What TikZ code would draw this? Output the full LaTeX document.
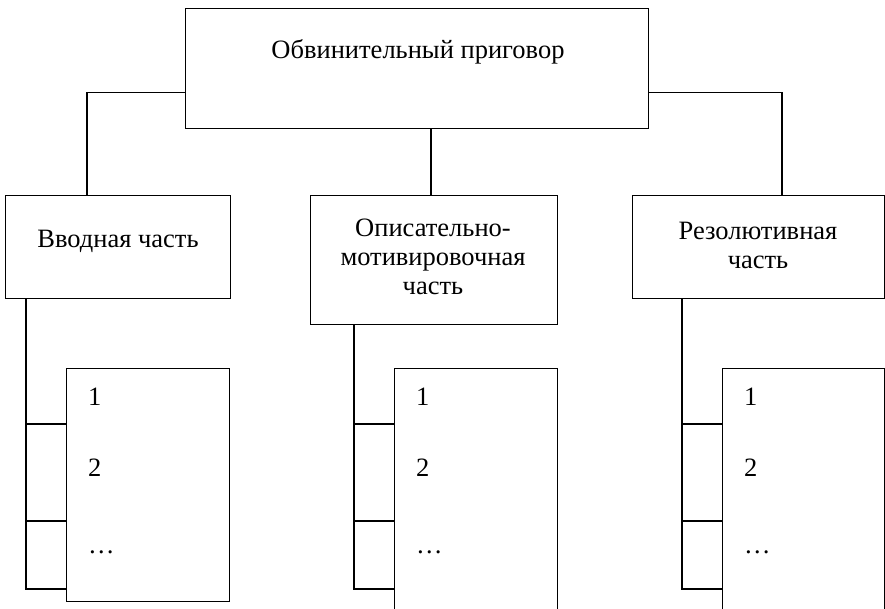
\documentclass[tikz,border=0pt]{standalone}
\usepackage{fontspec}
\setmainfont{Liberation Serif}
\usetikzlibrary{calc}
\begin{document}
\begin{tikzpicture}[x=1pt,y=-1pt,
  box/.style={draw, line width=0.8pt, inner sep=0pt, anchor=north west},
  conn/.style={line width=1.1pt},
  lbl/.style={font=\fontsize{26.5}{29}\selectfont, align=center, inner sep=0pt},
  item/.style={font=\fontsize{26.5}{29}\selectfont, anchor=base west, inner sep=0pt}]
\useasboundingbox (0,0) rectangle (885,608);
\clip (0,0) rectangle (885,608);
% top
\node[box, minimum width=463pt, minimum height=120pt] (top) at (185,8) {};
\node[lbl] (tt) at (418,52) {Обвинительный приговор};
% level 2
\node[box, minimum width=225pt, minimum height=103pt] (b1) at (5,195) {};
\node[box, minimum width=247pt, minimum height=129pt] (b2) at (310,195) {};
\node[box, minimum width=252pt, minimum height=103pt] (b3) at (632,195) {};
\node[lbl] (t1) at (118,241) {Вводная часть};
\node[lbl] (t2) at (433,257) {Описательно-\\мотивировочная\\часть};
\node[lbl] (t3) at (758,245) {Резолютивная\\часть};
% lists
\node[box, minimum width=163pt, minimum height=233pt] (l1) at (66,368) {};
\node[box, minimum width=163pt, minimum height=250pt] (l2) at (394,368) {};
\node[box, minimum width=162pt, minimum height=250pt] (l3) at (722,368) {};
\foreach \l/\x in {l1/88, l2/416, l3/744}{
  \node[item] (\l a) at (\x,405) {1};
  \node[item] (\l b) at (\x,476) {2};
  \node[item] (\l c) at (\x,553) {…};
}
% connectors top
\draw[conn] ([yshift=-24pt]top.west) -| (b1.north west -| 87,0);
\draw[conn] ([yshift=-24pt]top.east) -| (b3.north west -| 782,0);
\draw[conn] (top.south -| 431,0) -- (b2.north -| 431,0);
% columns
\foreach \b/\l/\vx in {b1/l1/26, b2/l2/354, b3/l3/682}{
  \draw[conn] (\b.south -| \vx,0) -- (\vx,589) -- (\l.west |- 0,589);
  \draw[conn] (\vx,424) -- (\l.west |- 0,424);
  \draw[conn] (\vx,521) -- (\l.west |- 0,521);
}
\end{tikzpicture}
\end{document}
